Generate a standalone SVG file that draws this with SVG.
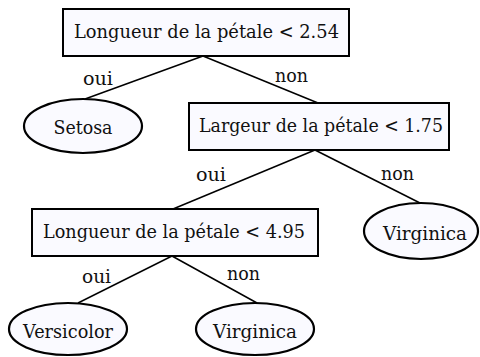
<svg xmlns="http://www.w3.org/2000/svg" width="480" height="357" viewBox="0 0 480 357">
<style>
.box{fill:#fafaff;stroke:#000;stroke-width:2}
.leaf{fill:#fafaff;stroke:#000;stroke-width:2.2}
.t{font-family:"DejaVu Serif","Liberation Serif",serif;font-size:19px;fill:#111}
.lbl{font-family:"DejaVu Serif","Liberation Serif",serif;font-size:18px;fill:#111}
.e{stroke:#000;stroke-width:1.5;fill:none}
</style>
<rect width="480" height="357" fill="#fff"/>
<g id="connectors">
<line class="e" x1="203" y1="56" x2="85" y2="99"/>
<line class="e" x1="203" y1="56" x2="318" y2="103"/>
<line class="e" x1="315" y1="150" x2="173" y2="209"/>
<line class="e" x1="315" y1="150" x2="420" y2="203"/>
<line class="e" x1="172" y1="256" x2="78" y2="303"/>
<line class="e" x1="172" y1="256" x2="257" y2="303"/>
<text class="lbl" x="83" y="85" textLength="30" lengthAdjust="spacingAndGlyphs">oui</text>
<text class="lbl" x="275" y="82" textLength="33" lengthAdjust="spacingAndGlyphs">non</text>
<text class="lbl" x="196" y="181" textLength="30" lengthAdjust="spacingAndGlyphs">oui</text>
<text class="lbl" x="381" y="180" textLength="33" lengthAdjust="spacingAndGlyphs">non</text>
<text class="lbl" x="82" y="283" textLength="29" lengthAdjust="spacingAndGlyphs">oui</text>
<text class="lbl" x="227" y="280" textLength="33" lengthAdjust="spacingAndGlyphs">non</text>
</g>
<g id="root">
<rect class="box" x="63" y="9" width="286" height="47"/>
<text class="t" x="74" y="38" textLength="265" lengthAdjust="spacingAndGlyphs">Longueur de la pétale &lt; 2.54</text>
</g>
<g id="setosa">
<ellipse class="leaf" cx="83" cy="126" rx="59" ry="27"/>
<text class="t" x="83" y="134" text-anchor="middle" textLength="59" lengthAdjust="spacingAndGlyphs">Setosa</text>
</g>
<g id="largeur">
<rect class="box" x="189" y="103" width="260" height="47"/>
<text class="t" x="199" y="132" textLength="244" lengthAdjust="spacingAndGlyphs">Largeur de la pétale &lt; 1.75</text>
</g>
<g id="longueur2">
<rect class="box" x="32" y="209" width="286" height="47"/>
<text class="t" x="43" y="238" textLength="262" lengthAdjust="spacingAndGlyphs">Longueur de la pétale &lt; 4.95</text>
</g>
<g id="virginica1">
<ellipse class="leaf" cx="421" cy="231" rx="57" ry="28"/>
<text class="t" x="425" y="240" text-anchor="middle" textLength="84" lengthAdjust="spacingAndGlyphs">Virginica</text>
</g>
<g id="versicolor">
<ellipse class="leaf" cx="68" cy="329" rx="59" ry="26"/>
<text class="t" x="68" y="338" text-anchor="middle" textLength="90" lengthAdjust="spacingAndGlyphs">Versicolor</text>
</g>
<g id="virginica2">
<ellipse class="leaf" cx="255" cy="329" rx="59" ry="26"/>
<text class="t" x="255" y="338" text-anchor="middle" textLength="84" lengthAdjust="spacingAndGlyphs">Virginica</text>
</g>
</svg>
